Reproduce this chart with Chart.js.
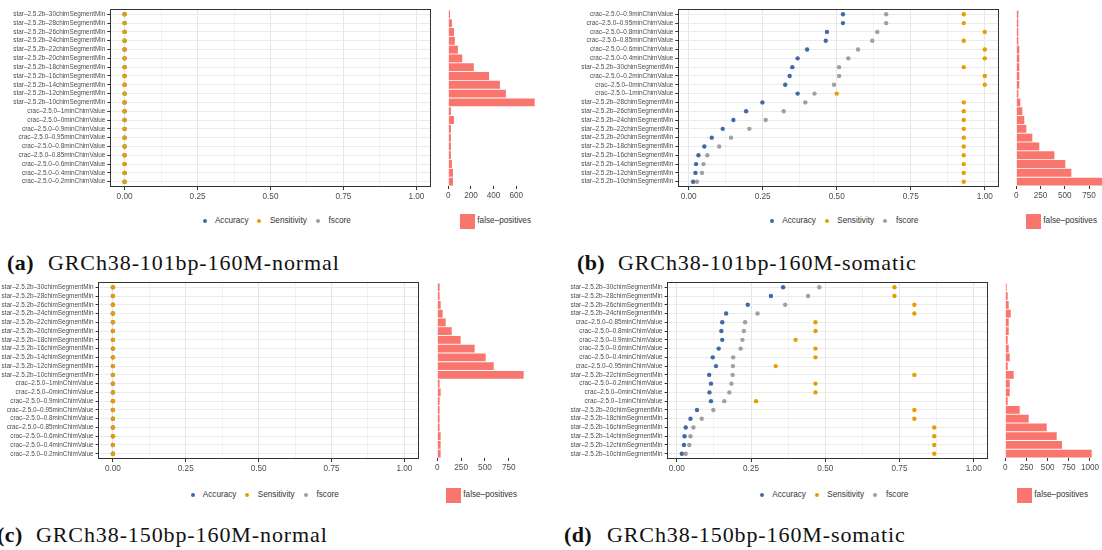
<!DOCTYPE html>
<html lang="en">
<head>
<meta charset="UTF-8">
<title>Chimeric read detection - GRCh38</title>
<script src="https://cdn.jsdelivr.net/npm/chart.js"></script>
<style>
  html, body { margin: 0; padding: 0; background: #fff; }
  body {
    width: 1102px; height: 550px; position: relative; overflow: hidden;
    font-family: "Liberation Sans", Arial, sans-serif;
  }
  canvas { position: absolute; }
  .leg { position: absolute; font-size: 8.2px; line-height: 10px; color: #333; white-space: nowrap; }
  .dot { position: absolute; width: 4px; height: 4px; border-radius: 50%; }
  .sq { position: absolute; width: 15px; height: 15px; background: #F8766D; }
  .cap {
    position: absolute; font-family: "Liberation Serif", "Times New Roman", serif;
    font-size: 22px; line-height: 22px; letter-spacing: 0.9px; color: #111; white-space: nowrap;
  }
  .cap b { letter-spacing: 0.4px; }
</style>
</head>
<body>

<div class="cap" style="left:7px; top:252px"><b>(a)</b></div>
<div class="cap" style="left:48px; top:252px">GRCh38-101bp-160M-normal</div>
<div class="cap" style="left:577px; top:252px"><b>(b)</b></div>
<div class="cap" style="left:618px; top:252px">GRCh38-101bp-160M-somatic</div>
<div class="cap" style="left:-3px; top:524px"><b>(c)</b></div>
<div class="cap" style="left:36px; top:524px">GRCh38-150bp-160M-normal</div>
<div class="cap" style="left:564px; top:524px"><b>(d)</b></div>
<div class="cap" style="left:607px; top:524px">GRCh38-150bp-160M-somatic</div>

<script>
  // ---- categories (top to bottom) ----
  const catNormal = [
    'star-2.5.2b-30chimSegmentMin', 'star-2.5.2b-28chimSegmentMin', 'star-2.5.2b-26chimSegmentMin',
    'star-2.5.2b-24chimSegmentMin', 'star-2.5.2b-22chimSegmentMin', 'star-2.5.2b-20chimSegmentMin',
    'star-2.5.2b-18chimSegmentMin', 'star-2.5.2b-16chimSegmentMin', 'star-2.5.2b-14chimSegmentMin',
    'star-2.5.2b-12chimSegmentMin', 'star-2.5.2b-10chimSegmentMin',
    'crac-2.5.0-1minChimValue', 'crac-2.5.0-0minChimValue', 'crac-2.5.0-0.9minChimValue',
    'crac-2.5.0-0.95minChimValue', 'crac-2.5.0-0.8minChimValue', 'crac-2.5.0-0.85minChimValue',
    'crac-2.5.0-0.6minChimValue', 'crac-2.5.0-0.4minChimValue', 'crac-2.5.0-0.2minChimValue'
  ];
  const catSomatic101 = [
    'crac-2.5.0-0.9minChimValue', 'crac-2.5.0-0.95minChimValue', 'crac-2.5.0-0.8minChimValue',
    'crac-2.5.0-0.85minChimValue', 'crac-2.5.0-0.6minChimValue', 'crac-2.5.0-0.4minChimValue',
    'star-2.5.2b-30chimSegmentMin', 'crac-2.5.0-0.2minChimValue', 'crac-2.5.0-0minChimValue',
    'crac-2.5.0-1minChimValue', 'star-2.5.2b-28chimSegmentMin', 'star-2.5.2b-26chimSegmentMin',
    'star-2.5.2b-24chimSegmentMin', 'star-2.5.2b-22chimSegmentMin', 'star-2.5.2b-20chimSegmentMin',
    'star-2.5.2b-18chimSegmentMin', 'star-2.5.2b-16chimSegmentMin', 'star-2.5.2b-14chimSegmentMin',
    'star-2.5.2b-12chimSegmentMin', 'star-2.5.2b-10chimSegmentMin'
  ];
  const catSomatic150 = [
    'star-2.5.2b-30chimSegmentMin', 'star-2.5.2b-28chimSegmentMin', 'star-2.5.2b-26chimSegmentMin',
    'star-2.5.2b-24chimSegmentMin', 'crac-2.5.0-0.85minChimValue', 'crac-2.5.0-0.8minChimValue',
    'crac-2.5.0-0.9minChimValue', 'crac-2.5.0-0.6minChimValue', 'crac-2.5.0-0.4minChimValue',
    'crac-2.5.0-0.95minChimValue', 'star-2.5.2b-22chimSegmentMin', 'crac-2.5.0-0.2minChimValue',
    'crac-2.5.0-0minChimValue', 'crac-2.5.0-1minChimValue', 'star-2.5.2b-20chimSegmentMin',
    'star-2.5.2b-18chimSegmentMin', 'star-2.5.2b-16chimSegmentMin', 'star-2.5.2b-14chimSegmentMin',
    'star-2.5.2b-12chimSegmentMin', 'star-2.5.2b-10chimSegmentMin'
  ];

  // ---- (a) GRCh38-101bp-160M-normal ----
  const accA  = [0,0,0,0,0,0,0,0,0,0,0,0,0,0,0,0,0,0,0,0];
  const sensA = [0,0,0,0,0,0,0,0,0,0,0,0,0,0,0,0,0,0,0,0];
  const fscA  = [null,null,null,null,null,null,null,null,null,null,null,null,null,null,null,null,null,null,null,null];
  const fpA   = [15, 32, 50, 58, 85, 123, 225, 360, 456, 509, 763, 23, 50, 23, 23, 23, 23, 32, 41, 41];

  // ---- (b) GRCh38-101bp-160M-somatic ----
  const accB  = [0.521, 0.521, 0.467, 0.463, 0.400, 0.368, 0.350, 0.341, 0.326, 0.368,
                 0.249, 0.194, 0.151, 0.115, 0.078, 0.053, 0.033, 0.025, 0.023, 0.015];
  const sensB = [0.929, 0.929, 1, 0.929, 1, 1, 0.929, 1, 1, 0.5,
                 0.929, 0.929, 0.929, 0.929, 0.929, 0.929, 0.929, 0.929, 0.929, 0.929];
  const fscB  = [0.667, 0.667, 0.637, 0.620, 0.572, 0.539, 0.508, 0.508, 0.491, 0.425,
                 0.394, 0.321, 0.260, 0.205, 0.143, 0.103, 0.063, 0.050, 0.045, 0.028];
  const fpB   = [21, 21, 21, 21, 31, 31, 31, 31, 31, 21, 41, 62, 82, 103, 165, 237, 392, 505, 567, 890];

  // ---- (c) GRCh38-150bp-160M-normal ----
  const accC  = [0,0,0,0,0,0,0,0,0,0,0,0,0,0,0,0,0,0,0,0];
  const sensC = [0,0,0,0,0,0,0,0,0,0,0,0,0,0,0,0,0,0,0,0];
  const fscC  = [null,null,null,null,null,null,null,null,null,null,null,null,null,null,null,null,null,null,null,null];
  const fpC   = [24, 24, 35, 56, 88, 151, 245, 392, 508, 592, 907, 24, 35, 24, 24, 24, 24, 35, 35, 35];

  // ---- (d) GRCh38-150bp-160M-somatic ----
  const accD  = [0.358, 0.317, 0.239, 0.166, 0.153, 0.150, 0.153, 0.141, 0.121, 0.132,
                 0.109, 0.115, 0.110, 0.115, 0.068, 0.046, 0.030, 0.026, 0.024, 0.017];
  const sensD = [0.733, 0.733, 0.8, 0.8, 0.467, 0.467, 0.4, 0.467, 0.467, 0.333,
                 0.8, 0.467, 0.467, 0.267, 0.8, 0.8, 0.867, 0.867, 0.867, 0.867];
  const fscD  = [0.480, 0.442, 0.365, 0.272, 0.230, 0.226, 0.221, 0.215, 0.190, 0.189,
                 0.188, 0.184, 0.177, 0.160, 0.123, 0.084, 0.056, 0.046, 0.042, 0.030];
  const fpD   = [16, 28, 40, 64, 40, 40, 28, 40, 52, 28, 99, 52, 52, 28, 170, 276, 489, 607, 669, 1020];

  // ---- tick labels ----
  const xMajor = [0, 0.25, 0.5, 0.75, 1];
  const xMajorLabels = ['0.00', '0.25', '0.50', '0.75', '1.00'];
  const xMinor = [0.125, 0.375, 0.625, 0.875];
  const fpTicksA = [0, 200, 400, 600];
  const fpTicksB = [0, 250, 500, 750];
  const fpTicksC = [0, 250, 500, 750];
  const fpTicksD = [0, 250, 500, 750, 1000];

  const COL = { acc: '#4169a9', sens: '#E69F00', fscore: '#a0a0a0', fp: '#F8766D' };
  const dash = s => s.replace(/-/g, '\u2013');   // R's pdf device shows hyphens as long dashes

  Chart.defaults.font.family = '"Liberation Sans", Arial, sans-serif';

  const panelBorder = {
    id: 'panelBorder',
    afterDraw(chart) {
      const { ctx, chartArea: a } = chart;
      ctx.save();
      ctx.strokeStyle = '#333';
      ctx.lineWidth = 1;
      ctx.strokeRect(Math.round(a.left) + 0.5, Math.round(a.top) + 0.5,
                     Math.round(a.right - a.left) - 1, Math.round(a.bottom - a.top) - 1);
      ctx.restore();
    }
  };

  function makeCanvas(left, top, w, h) {
    const cv = document.createElement('canvas');
    cv.width = Math.round(w); cv.height = Math.round(h);
    cv.style.left = left + 'px'; cv.style.top = top + 'px';
    document.body.appendChild(cv);
    return cv;
  }

  function dotPlot(box, cats, acc, sens, fsc) {
    const padT = 8, padR = 14, axisH = 22;
    const cv = makeCanvas(box.canvasLeft, box.top - padT,
                          box.right - box.canvasLeft + padR, padT + box.bottom - box.top + axisH);
    const pts = arr => arr.map((v, i) => (v === null ? null : { x: v, y: i })).filter(p => p);
    const xTicks = xMajor.concat(xMinor).sort((p, q) => p - q);
    new Chart(cv, {
      type: 'scatter',
      data: {
        datasets: [
          { label: 'fscore', data: pts(fsc), backgroundColor: COL.fscore, order: 1 },
          { label: 'Sensitivity', data: pts(sens), backgroundColor: COL.sens, order: 2 },
          { label: 'Accuracy', data: pts(acc), backgroundColor: COL.acc, order: 3 }
        ]
      },
      options: {
        responsive: false, animation: false, devicePixelRatio: 1, events: [],
        layout: { padding: { top: padT, right: padR, left: 0, bottom: 0 } },
        elements: { point: { radius: 2.2, hoverRadius: 2.2, borderWidth: 0 } },
        plugins: { legend: { display: false }, tooltip: { enabled: false } },
        scales: {
          x: {
            type: 'linear', min: box.xMin, max: box.xMax,
            afterBuildTicks: s => { s.ticks = xTicks.map(v => ({ value: v })); },
            afterFit: s => { s.height = axisH; },
            ticks: {
              autoSkip: false, maxRotation: 0, padding: 1.5, color: '#4d4d4d', font: { size: 8.2 },
              callback: v => { const k = xMajor.indexOf(v); return k >= 0 ? xMajorLabels[k] : ''; }
            },
            grid: {
              color: c => (xMajor.includes(c.tick.value) ? '#e6e6e6' : '#f2f2f2'),
              lineWidth: 1, tickLength: 3,
              tickColor: c => (xMajor.includes(c.tick.value) ? '#333' : 'rgba(0,0,0,0)')
            },
            border: { display: false }
          },
          y: {
            type: 'linear', reverse: true, min: -0.6, max: cats.length - 0.4,
            afterBuildTicks: s => { s.ticks = cats.map((c, i) => ({ value: i })); },
            afterFit: s => { s.width = box.left - box.canvasLeft; },
            ticks: {
              autoSkip: false, padding: 2, color: '#4d4d4d', font: { size: 6.4 },
              callback: v => dash(cats[Math.round(v)])
            },
            grid: { color: '#ebebeb', lineWidth: 1, tickLength: 2.7, tickColor: '#333' },
            border: { display: false }
          }
        }
      },
      plugins: [panelBorder]
    });
  }

  function barPlot(box, cats, values, ticks) {
    const M = Math.max(...values);
    const padL = 14, padR = 14, padT = 4, axisH = 22, W = 95;
    const u = (box.bottom - box.top) / (cats.length + 0.2);
    const top = box.top + 0.1 * u, bottom = box.bottom - 0.1 * u;
    const cv = makeCanvas(box.barLeft - padL, top - padT, W + padL + padR, padT + bottom - top + axisH);
    new Chart(cv, {
      type: 'bar',
      data: {
        labels: cats,
        datasets: [{ label: 'false-positives', data: values, backgroundColor: COL.fp,
                     barPercentage: 0.9, categoryPercentage: 1.0 }]
      },
      options: {
        indexAxis: 'y',
        responsive: false, animation: false, devicePixelRatio: 1, events: [],
        layout: { padding: { top: padT, right: padR, left: padL, bottom: 0 } },
        plugins: { legend: { display: false }, tooltip: { enabled: false } },
        scales: {
          x: {
            type: 'linear', min: -0.05 * M, max: 1.05 * M,
            afterBuildTicks: s => { s.ticks = ticks.map(v => ({ value: v })); },
            afterFit: s => { s.height = axisH; },
            ticks: { autoSkip: false, maxRotation: 0, padding: 1.5, color: '#4d4d4d', font: { size: 8.2 },
                     callback: v => String(v) },
            grid: { drawOnChartArea: false, tickLength: 3, tickColor: '#333' },
            border: { display: false }
          },
          y: { display: false }
        }
      }
    });
  }

  function dotLegend(x0, yc) {
    const items = [['Accuracy', COL.acc], ['Sensitivity', COL.sens], ['fscore', COL.fscore]];
    const dotOff = [0, 54.7, 113.3], txtOff = [10.3, 65.3, 124];
    items.forEach(([name, col], i) => {
      const d = document.createElement('div');
      d.className = 'dot';
      d.style.background = col;
      d.style.left = (x0 + dotOff[i] - 2) + 'px';
      d.style.top = (yc - 2) + 'px';
      document.body.appendChild(d);
      const t = document.createElement('div');
      t.className = 'leg';
      t.textContent = name;
      t.style.left = (x0 + txtOff[i]) + 'px';
      t.style.top = (yc - 5.5) + 'px';
      document.body.appendChild(t);
    });
  }

  function barLegend(x, yc) {
    const s = document.createElement('div');
    s.className = 'sq';
    s.style.left = x + 'px';
    s.style.top = (yc - 7.5) + 'px';
    document.body.appendChild(s);
    const t = document.createElement('div');
    t.className = 'leg';
    t.textContent = dash('false-positives');
    t.style.left = (x + 17.3) + 'px';
    t.style.top = (yc - 5.5) + 'px';
    document.body.appendChild(t);
  }

  const boxA = { canvasLeft: 0,   left: 110,   right: 431,   top: 8.7,   bottom: 186.3, xMin: -0.05,  xMax: 1.05,  barLeft: 443.7 };
  const boxB = { canvasLeft: 560, left: 678,   right: 999.3, top: 8.7,   bottom: 186.3, xMin: -0.036, xMax: 1.048, barLeft: 1011.7 };
  const boxC = { canvasLeft: 0,   left: 98.3,  right: 419,   top: 282.4, bottom: 459.6, xMin: -0.05,  xMax: 1.05,  barLeft: 432.7 };
  const boxD = { canvasLeft: 551, left: 667.3, right: 988.3, top: 282.4, bottom: 459.6, xMin: -0.032, xMax: 1.048, barLeft: 1001 };

  dotPlot(boxA, catNormal, accA, sensA, fscA);
  barPlot(boxA, catNormal, fpA, fpTicksA);
  dotPlot(boxB, catSomatic101, accB, sensB, fscB);
  barPlot(boxB, catSomatic101, fpB, fpTicksB);
  dotPlot(boxC, catNormal, accC, sensC, fscC);
  barPlot(boxC, catNormal, fpC, fpTicksC);
  dotPlot(boxD, catSomatic150, accD, sensD, fscD);
  barPlot(boxD, catSomatic150, fpD, fpTicksD);

  dotLegend(204.6, 221);
  dotLegend(772, 221);
  dotLegend(192.5, 495);
  dotLegend(762, 495);
  barLegend(460, 221);
  barLegend(1026, 221);
  barLegend(446, 495);
  barLegend(1017, 495);
</script>
</body>
</html>
